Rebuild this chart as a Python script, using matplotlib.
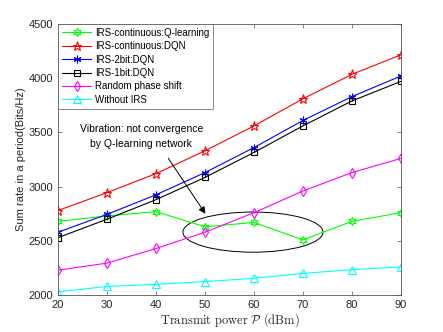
import numpy as np
import matplotlib.pyplot as plt
from matplotlib.patches import Ellipse

plt.rcParams.update({
    "font.family": "Liberation Sans",
    "mathtext.fontset": "cm",
    "xtick.direction": "in",
    "ytick.direction": "in",
    "xtick.top": True,
    "ytick.right": True,
    "axes.linewidth": 0.6,
    "axes.edgecolor": "#555555",
    "xtick.color": "#555555",
    "ytick.color": "#555555",
    "xtick.labelcolor": "#262626",
    "ytick.labelcolor": "#262626",
})

power = [20, 30, 40, 50, 60, 70, 80, 90]
q_learning = [2680, 2730, 2770, 2630, 2670, 2510, 2680, 2760]
dqn_cont   = [2780, 2945, 3120, 3330, 3560, 3810, 4035, 4215]
dqn_2bit   = [2580, 2745, 2925, 3130, 3360, 3610, 3830, 4020]
dqn_1bit   = [2530, 2700, 2880, 3085, 3315, 3560, 3790, 3970]
random_ps  = [2230, 2295, 2430, 2580, 2760, 2960, 3130, 3260]
no_irs     = [2030, 2080, 2100, 2125, 2155, 2200, 2235, 2260]

series = [
    ("IRS-continuous:Q-learning", q_learning, "#00ff00", (6, 1, 0), 6),
    ("IRS-continuous:DQN",        dqn_cont,   "#ff0000", "*", 6.5),
    ("IRS-2bit:DQN",              dqn_2bit,   "#0000ff", (6, 2, 0), 5.5),
    ("IRS-1bit:DQN",              dqn_1bit,   "#000000", "s", 5),
    ("Random phase shift",        random_ps,  "#ff00ff", "d", 5.5),
    ("Without IRS",               no_irs,     "#00ffff", "^", 5.5),
]

fig = plt.figure(figsize=(4.43, 3.32), dpi=100)
ax = fig.add_axes([0.131, 0.111, 0.774, 0.817])

for name, vals, col, mk, ms in series:
    ax.plot(power, vals, color=col, lw=0.8, marker=mk, ms=ms,
            mfc="none", mec=col, mew=0.8, label=name)

ax.add_patch(Ellipse((59.8, 2581), 28.6, 370, fill=False, ec="black", lw=0.7))
ax.annotate("", xy=(50.4, 2729), xytext=(42.2, 3282),
            arrowprops=dict(arrowstyle="-|>", color="black", lw=0.7,
                            mutation_scale=10))
ax.text(37, 3531, "Vibration: not convergence", ha="center", va="center", fontsize=7.5)
ax.text(37, 3393, "by Q-learning network", ha="center", va="center", fontsize=7.5)

ax.set_xlim(20, 90)
ax.set_ylim(2000, 4500)
ax.set_xticks(power)
ax.set_yticks([2000, 2500, 3000, 3500, 4000, 4500])
ax.tick_params(labelsize=8, length=3, width=0.5)
ax.set_xlabel(r"$\mathrm{Transmit\ power}\ \mathcal{P}\ \mathrm{(dBm)}$", fontsize=9, labelpad=1,
              color="#262626")
ax.set_ylabel("Sum rate in a period(Bits/Hz)", fontsize=8, labelpad=2, color="#262626")

leg = ax.legend(loc="upper left", fontsize=7, frameon=True, fancybox=False,
                borderaxespad=0, handlelength=3, labelspacing=0.35, borderpad=0.4,
                handletextpad=0.4)
leg.get_frame().set_edgecolor("#555555")
leg.get_frame().set_linewidth(0.6)

fig.savefig("out.png", dpi=100)
